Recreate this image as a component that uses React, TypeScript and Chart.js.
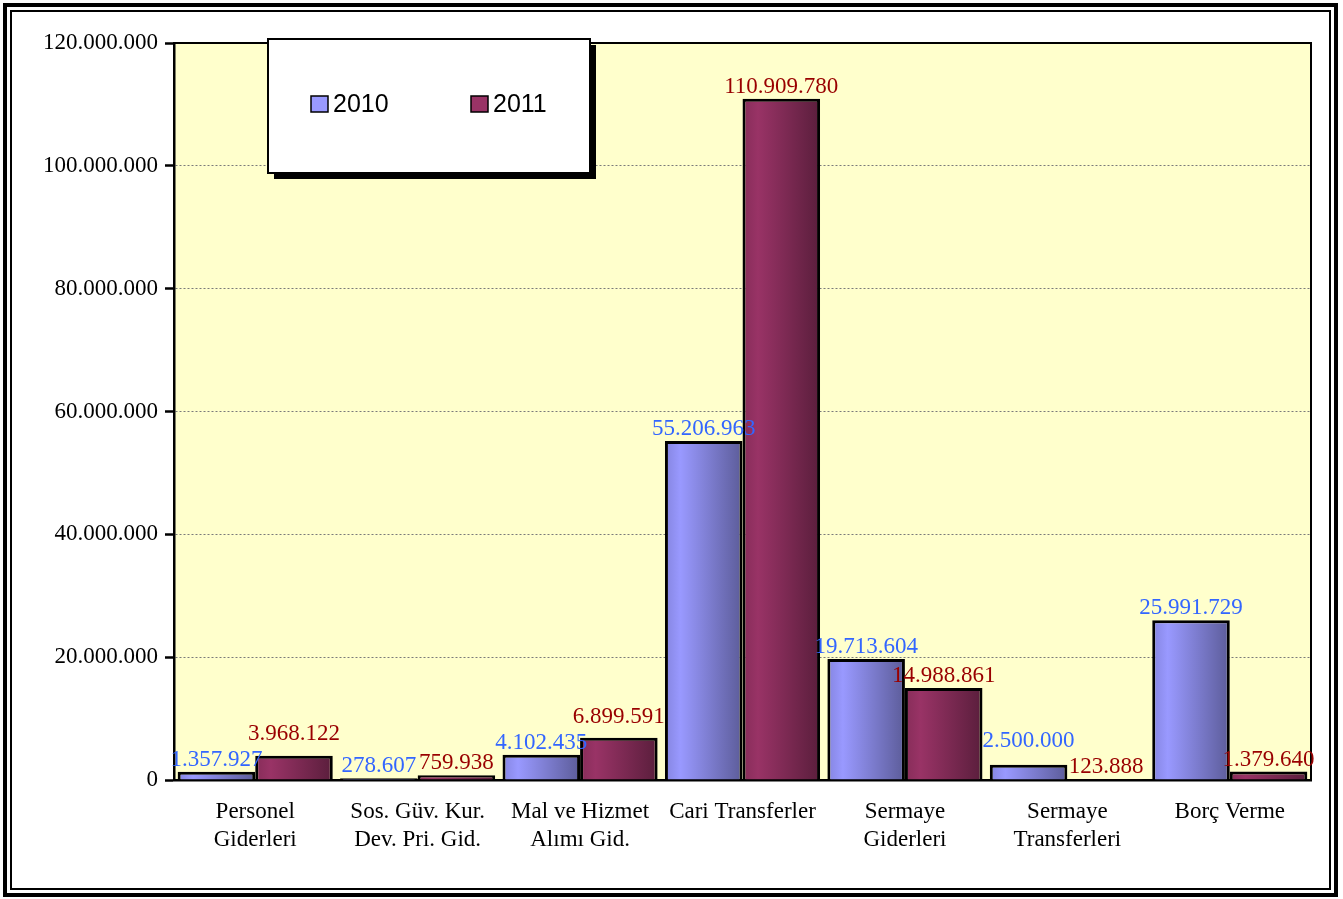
import React, { useEffect, useRef } from "react";
import { Chart, registerables } from "chart.js";

Chart.register(...registerables);

const categories: string[][] = [
  ["Personel", "Giderleri"],
  ["Sos. Güv. Kur.", "Dev. Pri. Gid."],
  ["Mal ve Hizmet", "Alımı Gid."],
  ["Cari Transferler"],
  ["Sermaye", "Giderleri"],
  ["Sermaye", "Transferleri"],
  ["Borç Verme"],
];
const seriesNames = ["2010", "2011"];
const values2010 = [1357927, 278607, 4102435, 55206963, 19713604, 2500000, 25991729];
const values2011 = [3968122, 759938, 6899591, 110909780, 14988861, 123888, 1379640];
const yMin = 0;
const yMax = 120000000;
const yStep = 20000000;

const W = 1343;
const H = 899;
const SERIF = '"Liberation Serif", "DejaVu Serif", serif';
const SANS = '"Liberation Sans", Arial, sans-serif';
const FS = 23;

const fmt = (n: number) => Math.round(n).toString().replace(/\B(?=(\d{3})+(?!\d))/g, ".");

const gradStops = [
  [
    [0, "#8585E0"],
    [0.2, "#9999FF"],
    [1, "#5C5C99"],
  ],
  [
    [0, "#862D59"],
    [0.2, "#993366"],
    [1, "#5A1E3C"],
  ],
];
const baseColors = ["#9999FF", "#993366"];
const labelColors = ["#3366FF", "#990000"];

const framePlugin = {
  id: "frame",
  beforeDraw(chart: any) {
    const { ctx, chartArea: a } = chart;
    ctx.save();
    ctx.fillStyle = "#FFFFCC";
    ctx.fillRect(a.left, a.top, a.right - a.left, a.bottom - a.top);
    ctx.restore();
  },
  beforeDatasetsDraw(chart: any) {
    const ctx = chart.ctx;
    chart.data.datasets.forEach((_: any, di: number) => {
      const meta = chart.getDatasetMeta(di);
      meta.data.forEach((el: any) => {
        const x0 = el.x - el.width / 2;
        const x1 = el.x + el.width / 2;
        const g = ctx.createLinearGradient(x0, 0, x1, 0);
        gradStops[di].forEach(([o, c]: any) => g.addColorStop(o, c));
        el.options = Object.assign({}, el.options, { backgroundColor: g });
      });
    });
  },
  afterDatasetsDraw(chart: any) {
    const { ctx, chartArea: a } = chart;
    ctx.save();
    ctx.strokeStyle = "#000";
    ctx.lineWidth = 2;
    ctx.beginPath();
    ctx.moveTo(a.left, a.top);
    ctx.lineTo(a.right, a.top);
    ctx.lineTo(a.right, a.bottom);
    ctx.stroke();

    // data labels
    ctx.font = `${FS}px ${SERIF}`;
    ctx.textAlign = "center";
    ctx.textBaseline = "middle";
    const m0 = chart.getDatasetMeta(0);
    const m1 = chart.getDatasetMeta(1);
    const sets = [values2010, values2011];
    for (let i = 0; i < categories.length; i++) {
      const items = [m0.data[i], m1.data[i]].map((el: any, di: number) => {
        const text = fmt(sets[di][i]);
        return { x: el.x, y: el.y - 12, w: ctx.measureText(text).width, text, di };
      });
      const [p, q] = items;
      if (Math.abs(p.x - q.x) < (p.w + q.w) / 2 + 2 && Math.abs(p.y - q.y) < 26) {
        if (p.y <= q.y) p.y = Math.min(p.y, q.y - 26);
        else q.y = Math.min(q.y, p.y - 26);
      }
      items.forEach((it) => {
        ctx.fillStyle = labelColors[it.di];
        ctx.fillText(it.text, it.x, it.y);
      });
    }
    ctx.restore();
  },
  afterDraw(chart: any) {
    const ctx = chart.ctx;
    ctx.save();
    const bx = 268, by = 39, bw = 322, bh = 134;
    ctx.fillStyle = "#000";
    ctx.fillRect(bx + 6, by + 6, bw, bh);
    ctx.fillStyle = "#fff";
    ctx.fillRect(bx, by, bw, bh);
    ctx.strokeStyle = "#000";
    ctx.lineWidth = 2;
    ctx.strokeRect(bx, by, bw, bh);
    const items = [
      { mx: 311, tx: 333 },
      { mx: 471, tx: 493 },
    ];
    ctx.font = `25px ${SANS}`;
    ctx.textAlign = "left";
    ctx.textBaseline = "middle";
    items.forEach((it, i) => {
      ctx.fillStyle = baseColors[i];
      ctx.fillRect(it.mx, 96, 17, 16);
      ctx.lineWidth = 1.5;
      ctx.strokeStyle = "#000";
      ctx.strokeRect(it.mx, 96, 17, 16);
      ctx.fillStyle = "#000";
      ctx.fillText(seriesNames[i], it.tx, 105);
    });
    ctx.restore();
  },
};

export default function App() {
  const ref = useRef<HTMLCanvasElement>(null);
  useEffect(() => {
    if (!ref.current) return;
    const chart = new Chart(ref.current, {
      type: "bar",
      data: {
        labels: categories,
        datasets: [
          {
            label: seriesNames[0],
            data: values2010,
            backgroundColor: baseColors[0],
            borderColor: "#000",
            borderWidth: 3,
            categoryPercentage: 0.955,
            barPercentage: 1,
          },
          {
            label: seriesNames[1],
            data: values2011,
            backgroundColor: baseColors[1],
            borderColor: "#000",
            borderWidth: 3,
            categoryPercentage: 0.955,
            barPercentage: 1,
          },
        ],
      },
      options: {
        responsive: false,
        animation: false,
        layout: { padding: { top: 43, right: 32, left: 0, bottom: 0 } },
        plugins: { legend: { display: false }, tooltip: { enabled: false } },
        scales: {
          x: {
            grid: { display: false, drawTicks: false },
            border: { display: true, color: "#000", width: 2.5 },
            ticks: {
              color: "#000",
              font: { family: SERIF, size: FS, lineHeight: 28 / FS },
              padding: 18,
              maxRotation: 0,
              autoSkip: false,
            },
            afterFit(scale: any) {
              scale.height = 119;
            },
          },
          y: {
            min: yMin,
            max: yMax,
            grid: {
              color: "#7a7a7a",
              lineWidth: 1,
              tickColor: "#000",
              tickWidth: 2.5,
              tickLength: 9,
              tickBorderDash: [],
            },
            border: { display: true, color: "#000", width: 2.5, dash: [2, 2] },
            ticks: {
              stepSize: yStep,
              color: "#000",
              font: { family: SERIF, size: FS },
              padding: 7,
              callback: (v: any) => fmt(Number(v)),
            },
            afterFit(scale: any) {
              scale.width = 174;
            },
          },
        },
      },
      plugins: [framePlugin],
    });
    return () => chart.destroy();
  }, []);

  return (
    <div style={{ position: "absolute", left: 0, top: 0, width: W, height: H, background: "#fff" }}>
      <div
        style={{
          position: "absolute",
          left: 3,
          top: 3,
          width: 1335,
          height: 894,
          border: "4px solid #000",
          boxSizing: "border-box",
        }}
      />
      <div
        style={{
          position: "absolute",
          left: 10,
          top: 10,
          width: 1321,
          height: 880,
          border: "2px solid #000",
          boxSizing: "border-box",
        }}
      />
      <canvas
        ref={ref}
        width={W}
        height={H}
        style={{ position: "absolute", left: 0, top: 0, width: W, height: H }}
      />
    </div>
  );
}
